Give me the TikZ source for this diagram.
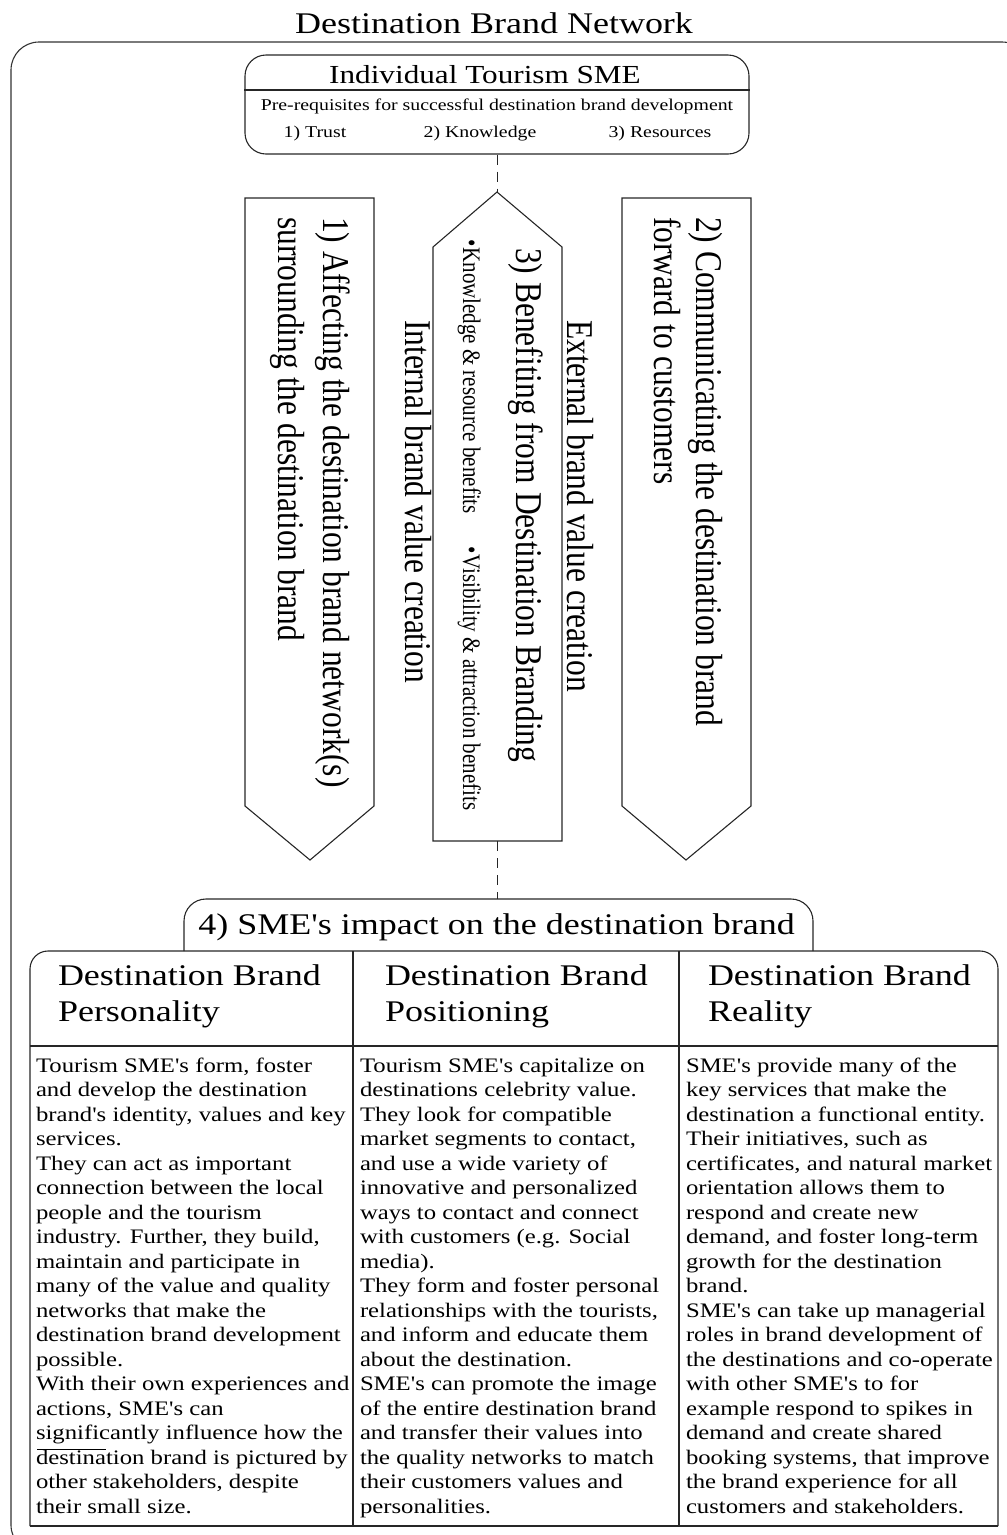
\documentclass[tikz,border=0pt]{standalone}
\usepackage{fontspec}
\setmainfont{Liberation Serif}[Ligatures=TeXOff]
\usepackage{graphicx}
% horizontal text is set 20% wide; rotated text is widened across its lines
\newcommand\hs[1]{\scalebox{1.2}[1]{#1}}
\newcommand\vs[1]{\scalebox{1}[1.2]{#1}}
\newcommand\fs[2]{\fontsize{#1}{#2}\selectfont}
\newcommand\bul{\raisebox{0.3pt}{\textbullet}\hspace{1pt}}

\begin{document}
\begin{tikzpicture}[x=1pt,y=-1pt,
  outline/.style={draw=black!80, line width=1.1pt},
  shapeline/.style={draw=black!85, line width=1.1pt, line join=miter},
  txt/.style={inner sep=0pt, outer sep=0pt},
  vtxt/.style={inner sep=0pt, outer sep=0pt, rotate=-90, anchor=base west},
  conn/.style={draw=black!85, line width=1pt, dash pattern=on 10pt off 7pt}]

\useasboundingbox (0,0) rectangle (1007,1535);
\clip (0,0) rectangle (1007,1535);

% title and surrounding network frame
\node[txt, anchor=base] (title) at (494,33) {\hs{\fs{30}{36}Destination Brand Network}};
\draw[outline, rounded corners=28] (11,1553) -- (11,42) -- (1030,42) -- (1030,1553) -- cycle;

% individual SME box
\node[shapeline, rectangle, rounded corners=21, minimum width=504pt, minimum height=99pt,
      inner sep=0pt] (sme) at (497,104.5) {};
\draw[shapeline] (sme.west |- 0,90) -- (sme.east |- 0,90);
\node[txt, anchor=base] (smetitle) at (485,83) {\hs{\fs{26}{30}Individual Tourism SME}};
\node[txt, anchor=base] (prereq) at (497,110) {\hs{\fs{16.5}{20}Pre-requisites for successful destination brand development}};
\node[txt, anchor=base] (trust) at (315,137) {\hs{\fs{16.5}{20}1) Trust}};
\node[txt, anchor=base] (know) at (480,137) {\hs{\fs{16.5}{20}2) Knowledge}};
\node[txt, anchor=base] (res) at (660,137) {\hs{\fs{16.5}{20}3) Resources}};

% left arrow: affecting the network
\draw[shapeline] (245,198) -- (374,198) -- (374,806) -- (310,860) -- (245,806) -- cycle;
\node[vtxt] (aff1) at (323,217) {\vs{\fs{31.5}{36}1) Affecting the destination brand network(s)}};
\node[vtxt] (aff2) at (278,217) {\vs{\fs{31.5}{36}surrounding the destination brand}};

% right arrow: communicating the brand
\draw[shapeline] (622,198) -- (751,198) -- (751,806) -- (686,860) -- (622,806) -- cycle;
\node[vtxt] (com1) at (696,217) {\vs{\fs{31.5}{36}2) Communicating the destination brand}};
\node[vtxt] (com2) at (654,217) {\vs{\fs{31.5}{36}forward to customers}};

% centre arrow: benefiting from branding
\draw[shapeline] (497,192) -- (562,247) -- (562,841) -- (433,841) -- (433,247) -- cycle;
\coordinate (ctrtop) at (497,192);
\coordinate (ctrbot) at (497,841);
\node[vtxt] (ben) at (516,248) {\vs{\fs{31.5}{36}3) Benefiting from Destination Branding}};
\node[vtxt] (kb) at (463,239) {\vs{\fs{21}{24}\bul Knowledge \& resource benefits}};
\node[vtxt] (vb) at (463,546) {\vs{\fs{21}{24}\bul Visibility \& attraction benefits}};
\node[vtxt] (ext) at (567,320) {\vs{\fs{31.5}{36}External brand value creation}};
\node[vtxt] (int) at (405,320) {\vs{\fs{31.5}{36}Internal brand value creation}};

% impact heading tab and table
\draw[shapeline, rounded corners=22] (184,951) -- (184,899) -- (813,899) -- (813,951);
\coordinate (imptop) at (497,899);
\node[txt, anchor=base] (impact) at (496.5,934) {\hs{\fs{30}{36}4) SME's impact on the destination brand}};

\draw[shapeline, rounded corners=18] (30,1526) -- (30,951) -- (998,951) -- (998,1526);
\draw[shapeline] (30,1526) -- (998,1526);
\draw[shapeline] (353,951) -- (353,1526);
\draw[shapeline] (679,951) -- (679,1526);
\draw[shapeline] (30,1046) -- (998,1046);

\node[txt, anchor=base west] (h1) at (58,985) {\hs{\fs{30}{36}\begin{tabular}[t]{@{}l@{}}Destination Brand\\Personality\end{tabular}}};
\node[txt, anchor=base west] (h2) at (385,985) {\hs{\fs{30}{36}\begin{tabular}[t]{@{}l@{}}Destination Brand\\Positioning\end{tabular}}};
\node[txt, anchor=base west] (h3) at (708,985) {\hs{\fs{30}{36}\begin{tabular}[t]{@{}l@{}}Destination Brand\\Reality\end{tabular}}};

\node[txt, anchor=base west] (c1) at (36,1072) {\hs{\fs{20.6}{24.5}\begin{tabular}[t]{@{}l@{}}
Tourism SME's form, foster\\
and develop the destination\\
brand's identity, values and key\\
services.\\
They can act as important\\
connection between the local\\
people and the tourism\\
industry. Further, they build,\\
maintain and participate in\\
many of the value and quality\\
networks that make the\\
destination brand development\\
possible.\\
With their own experiences and\\
actions, SME's can\\
significantly influence how the\\
destination brand is pictured by\\
other stakeholders, despite\\
their small size.
\end{tabular}}};
\draw[black, line width=0.8pt] (37,1449) -- (106,1449);

\node[txt, anchor=base west] (c2) at (360,1072) {\hs{\fs{20.6}{24.5}\begin{tabular}[t]{@{}l@{}}
Tourism SME's capitalize on\\
destinations celebrity value.\\
They look for compatible\\
market segments to contact,\\
and use a wide variety of\\
innovative and personalized\\
ways to contact and connect\\
with customers (e.g. Social\\
media).\\
They form and foster personal\\
relationships with the tourists,\\
and inform and educate them\\
about the destination.\\
SME's can promote the image\\
of the entire destination brand\\
and transfer their values into\\
the quality networks to match\\
their customers values and\\
personalities.
\end{tabular}}};

\node[txt, anchor=base west] (c3) at (686,1072) {\hs{\fs{20.6}{24.5}\begin{tabular}[t]{@{}l@{}}
SME's provide many of the\\
key services that make the\\
destination a functional entity.\\
Their initiatives, such as\\
certificates, and natural market\\
orientation allows them to\\
respond and create new\\
demand, and foster long-term\\
growth for the destination\\
brand.\\
SME's can take up managerial\\
roles in brand development of\\
the destinations and co-operate\\
with other SME's to for\\
example respond to spikes in\\
demand and create shared\\
booking systems, that improve\\
the brand experience for all\\
customers and stakeholders.
\end{tabular}}};

% dashed links through the centre
\draw[conn] (sme.south -| ctrtop) -- (ctrtop);
\draw[conn] (ctrbot) -- (imptop);
\end{tikzpicture}
\end{document}
